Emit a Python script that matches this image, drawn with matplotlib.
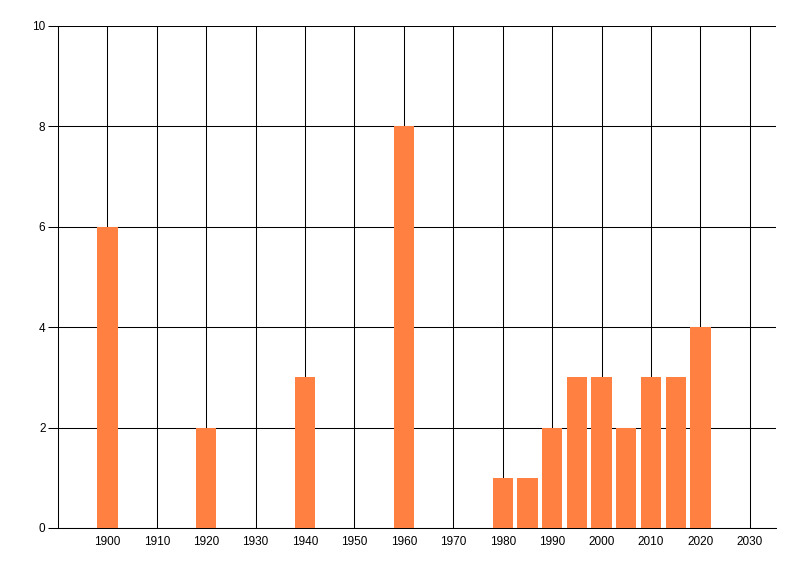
import numpy as np
import matplotlib
matplotlib.use('Agg')
import matplotlib.pyplot as plt

# bar data
years = [1900, 1920, 1940, 1960, 1980, 1985, 1990, 1995, 2000, 2005, 2010, 2015, 2020]
counts = [6, 2, 3, 8, 1, 1, 2, 3, 3, 2, 3, 3, 4]
x_ticks = list(range(1900, 2031, 10))
y_ticks = [0, 2, 4, 6, 8, 10]

bar_color = '#FF8040'

plt.rcParams['font.family'] = ['Liberation Sans', 'DejaVu Sans']

fig = plt.figure(figsize=(8, 5.76), dpi=100)
ax = fig.add_axes([58 / 800, 1 - 528 / 576, (776 - 58) / 800, (528 - 26) / 576])

ax.bar(years, counts, width=4.1, color=bar_color, zorder=3)

ax.set_xlim(1890, 2035.3)
ax.set_ylim(0, 10)
ax.set_xticks(x_ticks)
ax.set_yticks(y_ticks)

# grid lines in black, also at the left edge
ax.grid(True, color='black', linewidth=0.75, zorder=0)
ax.set_axisbelow(True)

for side in ['top', 'right']:
    ax.spines[side].set_visible(False)
for side in ['left', 'bottom']:
    ax.spines[side].set_linewidth(0.75)
    ax.spines[side].set_color('black')

ax.tick_params(axis='x', length=0, pad=6, labelsize=8.5)
ax.tick_params(axis='y', length=7, width=0.75, pad=2, labelsize=8.5)

fig.savefig('out.png', dpi=100)
